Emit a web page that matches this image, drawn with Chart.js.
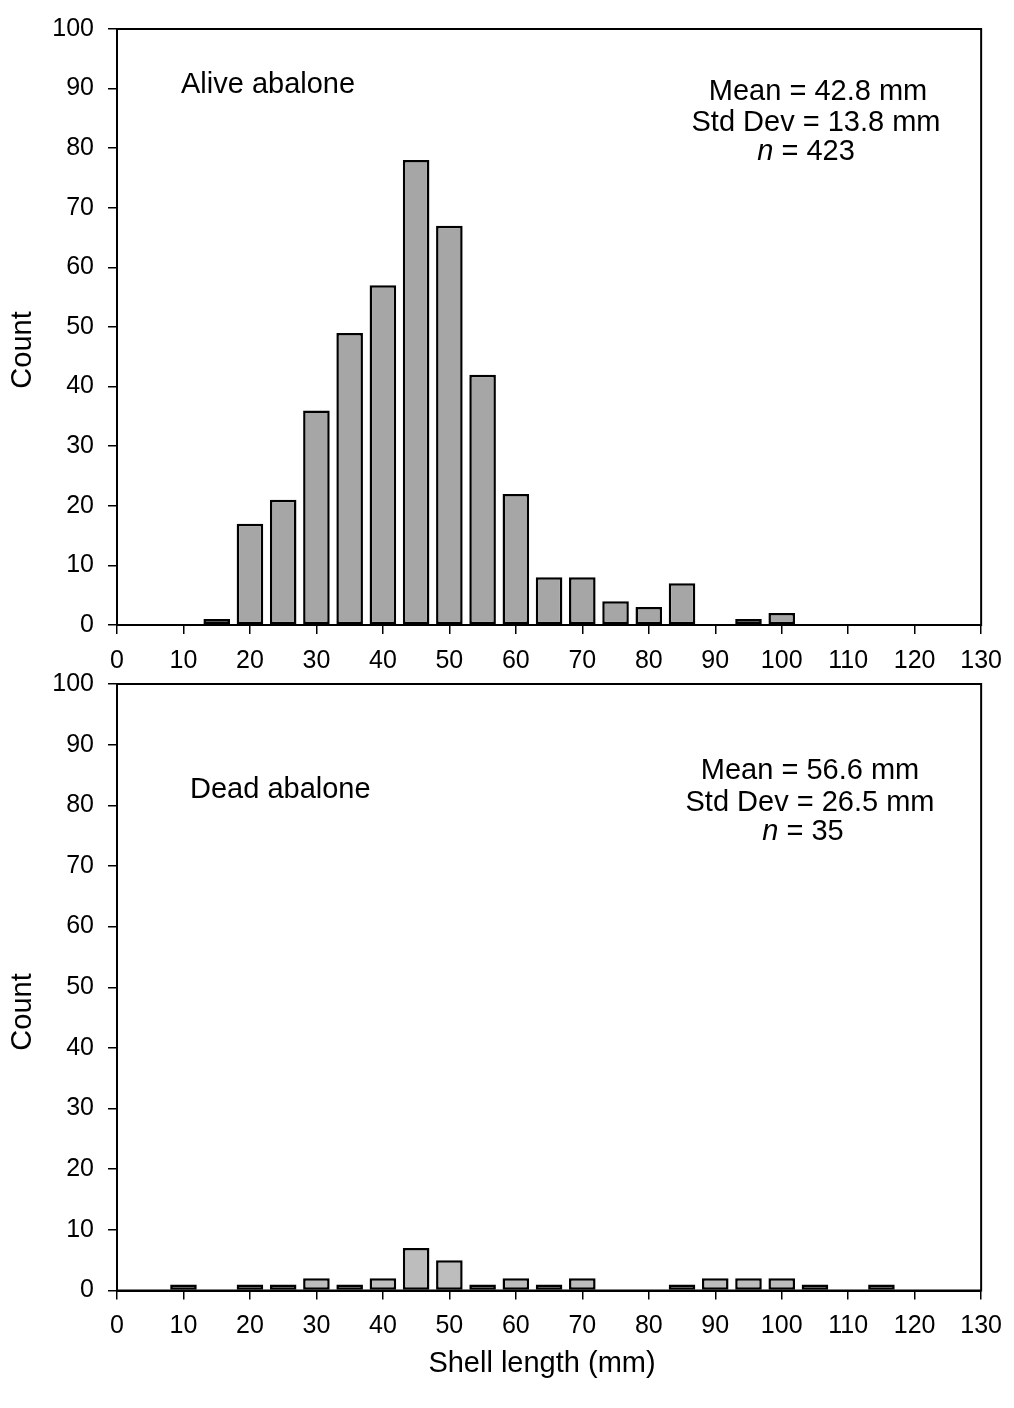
<!DOCTYPE html>
<html>
<head>
<meta charset="utf-8">
<script src="https://cdn.jsdelivr.net/npm/chart.js@4.4.1/dist/chart.umd.min.js"></script>
<style>
  html, body { margin: 0; padding: 0; background: #fff; }
  #wrap { position: relative; width: 1014px; height: 1408px; overflow: hidden; background: #fff; }
  canvas { position: absolute; left: 0; }
  #c1 { top: 0; }
  #c2 { top: 650px; }
</style>
</head>
<body>
<div id="wrap">
  <canvas id="c1" width="1014" height="684"></canvas>
  <canvas id="c2" width="1014" height="758"></canvas>
</div>
<script>
// ---- data ----
const binCentres = [5, 10, 15, 20, 25, 30, 35, 40, 45, 50, 55, 60, 65, 70, 75, 80, 85, 90, 95, 100, 105, 110, 115, 120, 125];
const aliveCounts = [0, 0, 1, 17, 21, 36, 49, 57, 78, 67, 42, 22, 8, 8, 4, 3, 7, 0, 1, 2, 0, 0, 0, 0, 0];
const deadCounts  = [0, 1, 0, 1, 1, 2, 1, 2, 7, 5, 1, 2, 1, 2, 0, 0, 1, 2, 2, 2, 1, 0, 1, 0, 0];
const xTicks = [0, 10, 20, 30, 40, 50, 60, 70, 80, 90, 100, 110, 120, 130];
const yTicks = [0, 10, 20, 30, 40, 50, 60, 70, 80, 90, 100];
const aliveLabel = 'Alive abalone';
const deadLabel = 'Dead abalone';
const aliveStats = ['Mean = 42.8 mm', 'Std Dev = 13.8 mm', '423'];
const deadStats = ['Mean = 56.6 mm', 'Std Dev = 26.5 mm', '35'];
const yTitle = 'Count';
const xTitle = 'Shell length (mm)';

const FONT = "'Liberation Sans', Arial, Helvetica, sans-serif";

function drawParts(ctx, parts, x, y, align, size) {
  let total = 0;
  parts.forEach(p => {
    ctx.font = (p.italic ? 'italic ' : '') + size + 'px ' + FONT;
    p.w = ctx.measureText(p.t).width;
    total += p.w;
  });
  let cx = align === 'center' ? x - total / 2 : x;
  ctx.textAlign = 'left';
  ctx.textBaseline = 'alphabetic';
  parts.forEach(p => {
    ctx.font = (p.italic ? 'italic ' : '') + size + 'px ' + FONT;
    ctx.fillText(p.t, cx, y);
    cx += p.w;
  });
}

const decor = {
  id: 'decor',
  afterDraw(chart, args, opts) {
    const ctx = chart.ctx;
    const a = chart.chartArea;
    ctx.save();
    ctx.strokeStyle = '#000';
    ctx.lineWidth = 2;
    ctx.strokeRect(a.left, a.top, a.right - a.left, a.bottom - a.top);
    ctx.fillStyle = '#000';
    (opts.notes || []).forEach(n => drawParts(ctx, n.parts, n.x, n.y, n.align, n.size));
    (opts.vtitles || []).forEach(v => {
      ctx.save();
      ctx.translate(v.x, v.y);
      ctx.rotate(-Math.PI / 2);
      ctx.font = v.size + 'px ' + FONT;
      ctx.textAlign = 'center';
      ctx.textBaseline = 'middle';
      ctx.fillText(v.t, 0, 0);
      ctx.restore();
    });
    ctx.restore();
  }
};

function makeChart(canvasId, counts, color, padTop, xAxisHeight, notes, vtitles) {
  return new Chart(document.getElementById(canvasId), {
    type: 'bar',
    data: {
      datasets: [{
        data: binCentres.map((c, i) => ({ x: c, y: counts[i] })),
        backgroundColor: color,
        borderColor: '#000',
        borderWidth: 2.5,
        borderSkipped: false,
        barPercentage: 0.8,
        categoryPercentage: 1.0
      }]
    },
    options: {
      responsive: false,
      animation: false,
      devicePixelRatio: 1,
      layout: { padding: { top: padTop, right: 28, left: 0, bottom: 0 } },
      plugins: {
        legend: { display: false },
        tooltip: { enabled: false },
        decor: { notes: notes, vtitles: vtitles }
      },
      scales: {
        x: {
          type: 'linear',
          min: xTicks[0],
          max: xTicks[xTicks.length - 1],
          offset: false,
          afterBuildTicks: s => { s.ticks = xTicks.map(v => ({ value: v })); },
          ticks: { color: '#000', font: { family: FONT, size: 25 }, padding: 12, maxRotation: 0, autoSkip: false },
          grid: { display: true, drawOnChartArea: false, drawTicks: true, tickLength: 9, color: '#000', lineWidth: 1.5, offset: false },
          border: { display: true, color: '#000', width: 2 },
          afterFit: s => { s.height = xAxisHeight; }
        },
        y: {
          min: yTicks[0],
          max: yTicks[yTicks.length - 1],
          afterBuildTicks: s => { s.ticks = yTicks.map(v => ({ value: v })); },
          ticks: { color: '#000', font: { family: FONT, size: 25 }, padding: 14 },
          grid: { display: true, drawOnChartArea: false, drawTicks: true, tickLength: 9, color: '#000', lineWidth: 1.5 },
          border: { display: true, color: '#000', width: 2 },
          afterFit: s => { s.width = 117; }
        }
      }
    },
    plugins: [decor]
  });
}

const S = 29;
makeChart('c1', aliveCounts, '#a6a6a6', 20, 59, [
  { parts: [{ t: aliveLabel }], x: 181, y: 93, align: 'left', size: S },
  { parts: [{ t: aliveStats[0] }], x: 818, y: 100, align: 'center', size: S },
  { parts: [{ t: aliveStats[1] }], x: 816, y: 131, align: 'center', size: S },
  { parts: [{ t: 'n', italic: true }, { t: ' = ' + aliveStats[2] }], x: 806, y: 160, align: 'center', size: S }
], [
  { t: yTitle, x: 23, y: 350, size: S }
]);

const OFF = 650;
makeChart('c2', deadCounts, '#bdbdbd', 34, 117.5, [
  { parts: [{ t: deadLabel }], x: 190, y: 798 - OFF, align: 'left', size: S },
  { parts: [{ t: deadStats[0] }], x: 810, y: 779 - OFF, align: 'center', size: S },
  { parts: [{ t: deadStats[1] }], x: 810, y: 811 - OFF, align: 'center', size: S },
  { parts: [{ t: 'n', italic: true }, { t: ' = ' + deadStats[2] }], x: 803, y: 840 - OFF, align: 'center', size: S },
  { parts: [{ t: xTitle }], x: 542, y: 1372 - OFF, align: 'center', size: S }
], [
  { t: yTitle, x: 23, y: 1012 - OFF, size: S }
]);
</script>
</body>
</html>
